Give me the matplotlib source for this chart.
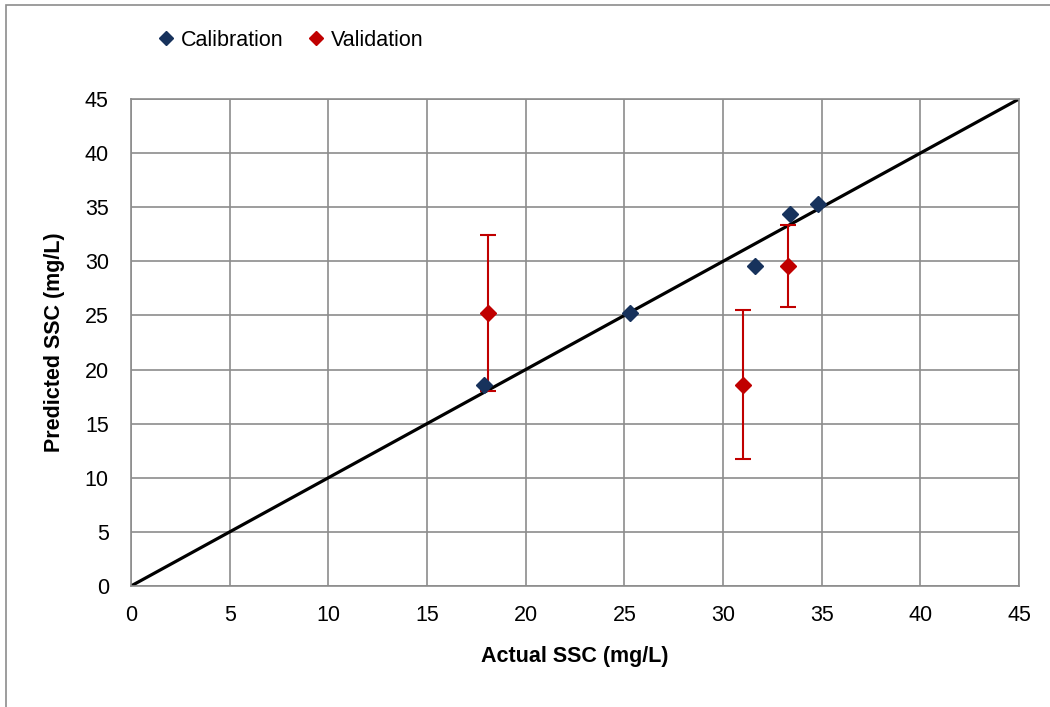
import matplotlib
matplotlib.use('Agg')
import matplotlib.pyplot as plt
from matplotlib.lines import Line2D
from matplotlib.patches import Rectangle

plt.rcParams['font.family'] = ['Liberation Sans', 'DejaVu Sans']

# 数据
cal_x = [17.9, 25.3, 31.6, 33.4, 34.8]
cal_y = [18.6, 25.2, 29.6, 34.4, 35.3]
val_x = [18.1, 31.0, 33.3]
val_y = [25.2, 18.6, 29.6]
val_err = [7.2, 6.9, 3.8]
line_xy = [0, 45]
ticks = list(range(0, 50, 5))

fig = plt.figure(figsize=(10.5, 7.07), dpi=100)
ax = fig.add_axes([131 / 1050, 121 / 707, 888 / 1050, 487 / 707])

# 外框
fig.patches.append(Rectangle((6 / 1050, -0.1), 1.2, 1.1 - 5 / 707,
                             transform=fig.transFigure, fill=False,
                             edgecolor='#8c8c8c', linewidth=1.2))

ax.plot(line_xy, line_xy, color='black', linewidth=2.3, zorder=2)
ax.errorbar(val_x, val_y, yerr=val_err, fmt='D', color='#C00000',
            markersize=8, elinewidth=1.5, capsize=6, capthick=1.5, zorder=3)
ax.plot(cal_x, cal_y, 'D', color='#17325C', markersize=8, zorder=4)

ax.set_xlim(0, 45)
ax.set_ylim(0, 45)
ax.set_xticks(ticks)
ax.set_yticks(ticks)
ax.grid(True, color='#8c8c8c', linewidth=1.2)
ax.set_axisbelow(True)
for s in ax.spines.values():
    s.set_color('#8c8c8c')
    s.set_linewidth(1.2)
ax.tick_params(length=0, labelsize=15.5)
ax.tick_params(axis='x', pad=14)
ax.tick_params(axis='y', pad=16)
ax.set_xlabel('Actual SSC (mg/L)', fontsize=15.5, fontweight='bold', labelpad=14)
ax.set_ylabel('Predicted SSC (mg/L)', fontsize=15.5, fontweight='bold', labelpad=14)

handles = [Line2D([], [], marker='D', color='#17325C', linestyle='none', markersize=7),
           Line2D([], [], marker='D', color='#C00000', linestyle='none', markersize=7)]
fig.legend(handles, ['Calibration', 'Validation'], loc='center left',
           bbox_to_anchor=(136 / 1050, 1 - 40 / 707), ncol=2, frameon=False,
           fontsize=15.5, handletextpad=0.2, columnspacing=1.0, handlelength=1.0)

fig.savefig('out.png', dpi=100)
